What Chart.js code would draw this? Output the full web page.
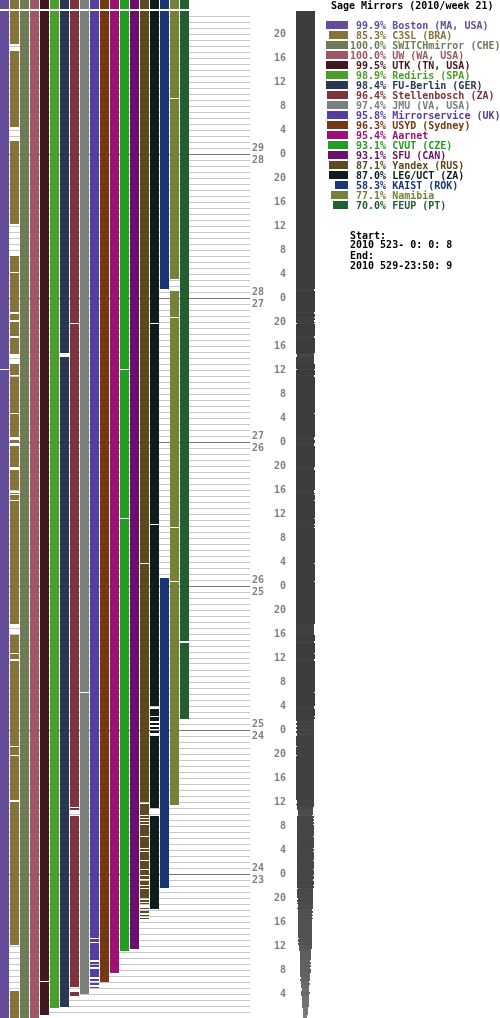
<!DOCTYPE html>
<html><head><meta charset="utf-8">
<script src="https://cdn.jsdelivr.net/npm/chart.js@4/dist/chart.umd.min.js"></script>
<style>
html,body{margin:0;padding:0;background:#fff;overflow:hidden}
#wrap{position:relative;width:500px;height:1018px}
canvas{position:absolute;left:0;top:0}
.t{position:absolute;font:bold 10px 'DejaVu Sans Mono',monospace;line-height:10px;white-space:pre}
.sw{position:absolute;height:8px}
</style></head><body>
<div id="wrap"><canvas id="c" width="500" height="1018"></canvas><div id="legend"></div></div>
<script>
// ---------------- data ----------------
const titleText = 'Sage Mirrors (2010/week 21)';
const startText = '2010 523- 0: 0: 8';
const endText   = '2010 529-23:50: 9';
const mirrorNames = ['Boston (MA, USA)','C3SL (BRA)','SWITCHmirror (CHE)','UW (WA, USA)','UTK (TN, USA)','Rediris (SPA)','FU-Berlin (GER)','Stellenbosch (ZA)','JMU (VA, USA)','Mirrorservice (UK)','USYD (Sydney)','Aarnet','CVUT (CZE)','SFU (CAN)','Yandex (RUS)','LEG/UCT (ZA)','KAIST (ROK)','Namibia','FEUP (PT)'];
const uptimePct = [99.9,85.3,100.0,100.0,99.5,98.9,98.4,96.4,97.4,95.8,96.3,95.4,93.1,93.1,87.1,87.0,58.3,77.1,70.0];
const mirrorColors = ['#634d9b','#857338','#6f7b57','#9e5865','#40181e','#4c9e2c','#293752','#7d333c','#7a807e','#553f9c','#763812','#9b1273','#239e22','#6b0e6d','#5c4a1c','#0e1c1b','#1b3675','#738236','#225e32'];

// hours since 2010-05-23 00:00 (samples every 10 minutes)
const startDay = 23;
const endHour = 167 + 50/60;          // 29 May 23:50
const sampleMinutes = 10;
const dayNumbers = [24,25,26,27,28,29];
const hourLabelStep = 4;
// the aggregate (grey) column only reflects outages up to this hour
const aggregateUntil = 121.5;

// outages (down intervals, hours)
const outBoston = [[108.0,108.2]];
const outC3SL = [[161.2,162.3],[146.2,148.5],[127.0,132.3],[124.2,124.4],[117.4,117.6],[116.0,116.3],[113.4,113.6],[109.0,110.7],[106.9,107.1],[100.7,100.9],[96.7,96.9],[96.4,96.6],[95.3,95.8],[91.3,91.8],[87.5,88.0],[87.2,87.4],[86.1,86.3],[63.8,65.7],[60.6,60.8],[59.5,59.9],[45.2,45.4],[43.6,43.8],[36.0,36.3],[4.5,12.2]];
const outSwitch = [];
const outUW = [];
const outUTK = [[6.0,6.2],[0,0.5]];
const outRediris = [[0,1.7]];
const outFUBerlin = [[110.2,110.8],[0,1.8]];
const outStellenbosch = [[115.6,115.8],[35.0,35.2],[33.7,34.7],[4.3,5.2],[0,3.7]];
const outJMU = [[54.1,54.3],[0,4.0]];
const outMirrorservice = [[13.2,13.3],[12.5,12.7],[9.3,9.7],[8.8,9.0],[8.2,8.5],[6.5,6.8],[5.8,6.2],[5.2,5.5],[0,5.0]];
const outUSYD = [[0,6.0]];
const outAarnet = [[0,7.5]];
const outCVUT = [[108.0,108.2],[83.2,83.4],[0,11.2]];
const outSFU = [[0,11.5]];
const outYandex = [[75.6,75.8],[35.7,36.0],[33.6,33.8],[33.1,33.3],[32.6,32.8],[32.2,32.4],[30.2,30.4],[28.1,28.3],[27.7,27.9],[26.2,26.4],[24.6,24.8],[23.6,23.8],[22.9,23.1],[22.0,22.2],[21.5,21.7],[19.7,20.0],[19.2,19.3],[18.3,19.0],[17.8,18.2],[17.2,17.5],[16.7,17.0],[0,16.5]];
const outLEG = [[115.6,115.8],[82.1,82.3],[51.5,52.0],[50.2,50.3],[49.2,49.5],[48.5,48.8],[47.8,48.2],[47.0,47.5],[33.7,35.0],[0,18.2]];
const outKAIST = [[0,21.7]];
const outNamibia = [[153.2,153.4],[143.8,144.0],[121.2,123.2],[116.6,116.8],[81.7,81.9],[72.7,72.9],[0,35.5]];
const outFEUP = [[62.5,62.8],[0,49.8]];
// no-data gap (column blank, not counted as down in the aggregate)
const noDataKAIST = [[73.3,121.5]];

const outages = [outBoston,outC3SL,outSwitch,outUW,outUTK,outRediris,outFUBerlin,outStellenbosch,outJMU,outMirrorservice,outUSYD,outAarnet,outCVUT,outSFU,outYandex,outLEG,outKAIST,outNamibia,outFEUP];
const noData = mirrorNames.map((_, i) => i === 16 ? noDataKAIST : []);

// ---------------- layout constants ----------------
const AGG_X = 30.1;   // x-scale value of the aggregate column centre

// snap to the 10-minute sampling grid
const snap = h => Math.round(h * 60 / sampleMinutes) * sampleMinutes / 60;
const snapList = list => list.map(([a,b]) => [snap(Math.min(a,b)), snap(Math.max(a,b))]).filter(([a,b]) => b > a);
const outS = outages.map(snapList);
const gapS = noData.map(snapList);

function upIntervals(out, gaps, top) {
  const blocked = out.concat(gaps).sort((a,b) => a[0]-b[0]);
  const res = []; let cur = 0;
  for (const [a,b] of blocked) { if (a > cur) res.push([cur,a]); cur = Math.max(cur,b); }
  if (cur < top) res.push([cur, top]);
  return res;
}
const inAny = (list, t) => list.some(([a,b]) => t > a && t < b);

const datasets = mirrorNames.map((name, i) => {
  const pts = [];
  upIntervals(outS[i], gapS[i], endHour).forEach(([a,b]) => {
    pts.push({x:i, y:a}, {x:i, y:b}, {x:i, y:null});
  });
  return {label:name, data:pts, borderColor:mirrorColors[i], borderWidth:9, borderCapStyle:'butt',
          pointRadius:0, pointHoverRadius:0, spanGaps:false, fill:false, clip:false, tension:0};
});

// aggregate column: width = number of mirrors not down
const bpSet = new Set([0, endHour, snap(aggregateUntil)]);
outS.forEach(list => list.forEach(([a,b]) => { bpSet.add(a); bpSet.add(b); }));
const bps = [...bpSet].filter(t => t >= 0 && t <= endHour).sort((a,b) => a-b);
const aggSegs = [];
for (let k = 0; k < bps.length - 1; k++) {
  const mid = (bps[k] + bps[k+1]) / 2;
  let n = 0;
  for (let i = 0; i < mirrorNames.length; i++) if (mid > aggregateUntil || !inAny(outS[i], mid)) n++;
  const last = aggSegs[aggSegs.length-1];
  if (last && last.n === n) { last.b = bps[k+1]; continue; }
  aggSegs.push({a:bps[k], b:bps[k+1], n});
}
const grayFor = n => { const g = Math.round(60 + (mirrorNames.length - n) * 4.3); return `rgb(${g},${g},${g})`; };
// odd widths centred on a pixel centre, even widths on a pixel edge (crisp edges)
[1, 0].forEach(par => {
  const pts = [], ns = [];
  const xv = par === 1 ? AGG_X : AGG_X - 0.05;
  aggSegs.filter(s => s.n % 2 === par).forEach(s => {
    pts.push({x:xv, y:s.a}, {x:xv, y:s.b}, {x:null, y:s.b});
    ns.push(s.n, s.n, s.n);
  });
  datasets.push({label:'all' + par, data:pts, indexAxis:'y', borderColor:'#3c3c3c', borderWidth:19, borderCapStyle:'butt',
    pointRadius:0, pointHoverRadius:0, fill:false, clip:false, tension:0, spanGaps:false,
    segment:{ borderWidth: c => ns[c.p0DataIndex], borderColor: c => grayFor(ns[c.p0DataIndex]) }});
});

const hourTicks = Array.from({length: 168}, (_, k) => k);
const dayTicks = dayNumbers.map(d => (d - startDay) * 24);
const tickFont = {family:'DejaVu Sans Mono', weight:'bold', size:10};

const headerPlugin = {
  id:'headers',
  afterDatasetsDraw(chart) {
    const ctx = chart.ctx, xs = chart.scales.x;
    mirrorColors.forEach((c, i) => { ctx.fillStyle = c; ctx.fillRect(xs.getPixelForValue(i) - 4.5, 0, 9, 9); });
  }
};

new Chart(document.getElementById('c'), {
  type:'line',
  data:{datasets},
  plugins:[headerPlugin],
  options:{
    responsive:false, animation:false, devicePixelRatio:1, events:[],
    layout:{padding:{top:11, right:214, bottom:0, left:0}, autoPadding:false},
    plugins:{legend:{display:false}, tooltip:{enabled:false}},
    scales:{
      x:{type:'linear', min:-0.45, max:24.55, display:false},
      y:{type:'linear', min:0, max:endHour, position:'right', weight:1,
         afterBuildTicks: s => { s.ticks = hourTicks.map(v => ({value:v})); },
         afterFit: s => { s.width = 20; s.paddingTop = 0; s.paddingBottom = 0; },
         ticks:{autoSkip:false, padding:4, crossAlign:'far', color:'#808080', font:tickFont,
                callback: v => (v > 0 && v % hourLabelStep === 0) ? String(v % 24) : ''},
         grid:{drawTicks:false, lineWidth:1,
               color: c => (c.tick && c.tick.value === 0) ? 'rgba(0,0,0,0)' : (c.tick && c.tick.value % 24 === 0 ? '#777777' : '#c8c8c8')},
         border:{display:false}},
      yDay:{type:'linear', min:0, max:endHour, position:'right', weight:0,
         afterBuildTicks: s => { s.ticks = dayTicks.map(v => ({value:v})); },
         afterFit: s => { s.width = 16; s.paddingTop = 0; s.paddingBottom = 0; },
         ticks:{autoSkip:false, padding:2, crossAlign:'near', color:'#808080', font:tickFont,
                callback: v => [String(startDay + v/24), String(startDay + v/24 - 1)]},
         grid:{display:false, drawTicks:false}, border:{display:false}}
    }
  }
});

// ---------------- legend (HTML text) ----------------
const legend = document.getElementById('legend');
function addText(txt, x, y, color) {
  const d = document.createElement('div'); d.className = 't'; d.textContent = txt;
  d.style.left = x + 'px'; d.style.top = y + 'px'; d.style.color = color; legend.appendChild(d);
}
addText(titleText, 331, 1, '#000');
mirrorNames.forEach((n, i) => {
  const sw = document.createElement('div'); sw.className = 'sw';
  const w = uptimePct[i] / 100 * 22;
  sw.style.left = (348 - w) + 'px'; sw.style.width = w + 'px'; sw.style.top = (21 + 10*i) + 'px';
  sw.style.background = mirrorColors[i]; legend.appendChild(sw);
  addText(uptimePct[i].toFixed(1).padStart(5, ' ') + '% ' + n, 350, 21 + 10*i, mirrorColors[i]);
});
addText('Start:', 350, 231, '#000');
addText(startText, 350, 240, '#000');
addText('End:', 350, 251, '#000');
addText(endText, 350, 261, '#000');
</script>
</body></html>
